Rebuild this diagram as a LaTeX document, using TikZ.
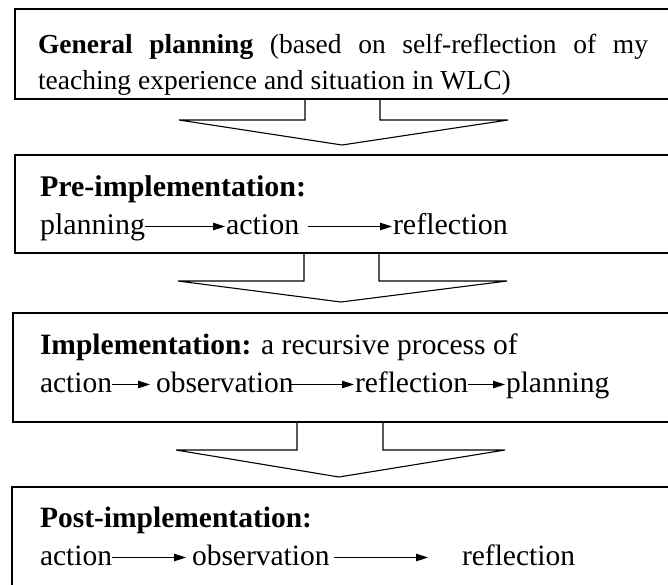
\documentclass[tikz,border=0pt]{standalone}
\usepackage{fontspec}
\setmainfont{Liberation Serif}
\usetikzlibrary{arrows.meta}
\begin{document}
\begin{tikzpicture}[x=1pt,y=-1pt,
  frame/.style={draw, line width=1.3pt, anchor=north west, minimum width=680pt, inner sep=0pt, outer sep=0pt},
  blockarrow/.style={draw, line width=1.1pt, line join=miter},
  word/.style={anchor=base west, inner sep=0pt, outer sep=0pt, font=\fontsize{#1}{33}\selectfont},
  word/.default=29.5,
  flow/.style={line width=0.8pt, -{Triangle[length=12pt,width=7.5pt]}}
]
\useasboundingbox (0,0) rectangle (668,584);
\clip (0,0) rectangle (668,584);

% stage frames
\node[frame, minimum height=90pt]  (b1) at (15,9)   {};
\node[frame, minimum height=98pt]  (b2) at (15,155) {};
\node[frame, minimum height=109pt] (b3) at (13,313) {};
\node[frame, minimum height=130pt] (b4) at (12,487) {};

% hollow block arrows between the stages
\draw[blockarrow] (305,99) -- (305,120) -- (179,120) -- (342,145) -- (508,120) -- (380,120) -- (380,99);
\draw[blockarrow] (304,253) -- (304,281) -- (178,281) -- (341,302) -- (507,281) -- (379,281) -- (379,253);
\draw[blockarrow] (297,422) -- (297,450) -- (176,450) -- (339,477) -- (505,450) -- (383,450) -- (383,422);

% general planning
\node[word=27.5] (g1) at (38,53) {\makebox[610pt][s]{\textbf{General planning} (based on self-reflection of my}};
\node[word=27.5] (g2) at (38,89) {teaching experience and situation in WLC)};

% pre-implementation
\node[word=30] (p0) at (40,196) {\textbf{Pre-implementation:}};
\node[word=30] (p1) at (40,234)  {planning};
\node[word=30] (p2) at (226,234) {action};
\node[word=30] (p3) at (393,234) {reflection};
\draw[flow] ([yshift=7.5pt]p1.base east) -- ([xshift=-1pt,yshift=7.5pt]p2.base west);
\draw[flow] ([xshift=9pt,yshift=7.5pt]p2.base east) -- ([xshift=-1pt,yshift=7.5pt]p3.base west);

% implementation
\node[word] (i0) at (40,354) {\textbf{Implementation:} a recursive process of};
\node[word] (i1) at (40,392)  {action};
\node[word] (i2) at (156,392) {observation};
\node[word] (i3) at (355,392) {reflection};
\node[word] (i4) at (506,392) {planning};
\draw[flow] ([yshift=7.5pt]i1.base east) -- ([xshift=-6pt,yshift=7.5pt]i2.base west);
\draw[flow] ([xshift=-4pt,yshift=7.5pt]i2.base east) -- ([xshift=-1pt,yshift=7.5pt]i3.base west);
\draw[flow] ([yshift=7.5pt]i3.base east) -- ([xshift=-1pt,yshift=7.5pt]i4.base west);

% post-implementation
\node[word] (q0) at (40,527) {\textbf{Post-implementation:}};
\node[word] (q1) at (40,565)  {action};
\node[word] (q2) at (192,565) {observation};
\node[word] (q3) at (462,565) {reflection};
\draw[flow] ([yshift=7.5pt]q1.base east) -- ([xshift=-6pt,yshift=7.5pt]q2.base west);
\draw[flow] ([xshift=4pt,yshift=7.5pt]q2.base east) -- ([xshift=-34pt,yshift=7.5pt]q3.base west);
\end{tikzpicture}
\end{document}
